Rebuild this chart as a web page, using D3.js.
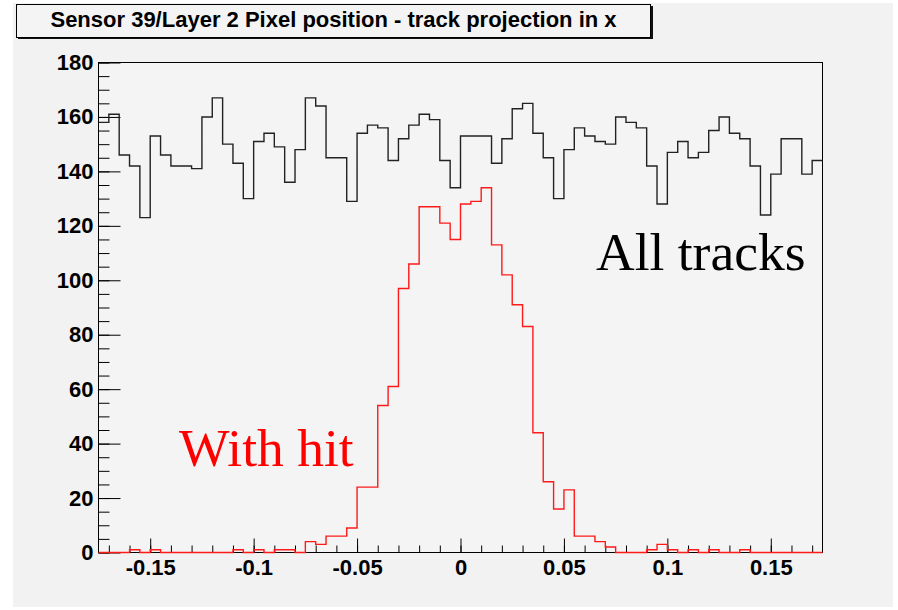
<!DOCTYPE html>
<html>
<head>
<meta charset="utf-8">
<script src="https://cdn.jsdelivr.net/npm/d3@7"></script>
<style>
  html, body { margin: 0; padding: 0; background: #fff; }
  svg { display: block; }
</style>
</head>
<body>
<svg id="chart" width="898" height="610"></svg>
<script>
const title = "Sensor 39/Layer 2 Pixel position - track projection in x";
const xRange = [-0.175, 0.175]; // 70 bins
const yMax = 180;

// bin contents, left to right
const allTracks = [
  158, 161, 146, 142, 123, 153, 146, 142, 142, 141,
  160, 167, 150, 143, 130, 151, 154, 149, 136, 148,
  167, 164, 145, 145, 129, 154, 157, 156, 144, 152,
  157, 161, 159, 144, 134, 153, 153, 153, 143, 152,
  163, 165, 154, 145, 130, 148, 156, 153, 151, 150,
  160, 158, 156, 142, 128, 147, 151, 145, 147, 155,
  160, 154, 152, 142, 124, 139, 152, 152, 139, 144
];
const withHit = [
  0, 0, 0, 1, 0, 1, 0, 0, 0, 0,
  0, 0, 0, 1, 0, 1, 0, 1, 1, 0,
  4, 3, 6, 6, 9, 24, 24, 54, 61, 97,
  106, 127, 127, 121, 115, 128, 129, 134, 113, 102,
  91, 83, 44, 26, 16, 23, 6, 6, 4, 2,
  0, 0, 0, 1, 3, 1, 0, 1, 0, 1,
  0, 0, 1, 0, 0, 0, 0, 0, 0, 0
];

const xTickValues = [-0.15, -0.1, -0.05, 0, 0.05, 0.1, 0.15];
const xTickLabels = ["-0.15", "-0.1", "-0.05", "0", "0.05", "0.1", "0.15"];
const yTickValues = [0, 20, 40, 60, 80, 100, 120, 140, 160, 180];

const labelAll = "All tracks";
const labelHit = "With hit";

const frame = { left: 98.5, top: 62.5, right: 822.5, bottom: 552.5 };
const sansBold = "'Liberation Sans', Arial, Helvetica, sans-serif";
const serif = "'Liberation Serif', 'Times New Roman', Times, serif";

const svg = d3.select("#chart");

// canvas background
svg.append("rect")
  .attr("x", 13).attr("y", 3)
  .attr("width", 880).attr("height", 604)
  .attr("fill", "#f2f2f2");

// frame
svg.append("rect")
  .attr("x", frame.left).attr("y", frame.top)
  .attr("width", frame.right - frame.left)
  .attr("height", frame.bottom - frame.top)
  .attr("fill", "#f4f4f4")
  .attr("stroke", "#000")
  .attr("stroke-width", 1);

const x = d3.scaleLinear().domain(xRange).range([frame.left, frame.right]);
const y = d3.scaleLinear().domain([0, yMax]).range([frame.bottom, frame.top]);

// y axis: ticks point into the frame, labels outside
const yMinor = svg.append("g")
  .attr("transform", `translate(${frame.left},0)`)
  .call(d3.axisLeft(y).tickValues(d3.range(0, yMax + 1, 5)).tickSize(-11).tickFormat(""));
const yAxis = svg.append("g")
  .attr("transform", `translate(${frame.left},0)`)
  .call(d3.axisLeft(y).tickValues(yTickValues).tickSize(-22).tickPadding(5));

// x axis
const xMinor = svg.append("g")
  .attr("transform", `translate(0,${frame.bottom})`)
  .call(d3.axisBottom(x).tickValues(d3.range(-17, 18).map((v) => v / 100)).tickSize(-7).tickFormat(""));
const xAxis = svg.append("g")
  .attr("transform", `translate(0,${frame.bottom})`)
  .call(d3.axisBottom(x).tickValues(xTickValues).tickSize(-14).tickPadding(7)
    .tickFormat((d, i) => xTickLabels[i]));

[yMinor, yAxis, xMinor, xAxis].forEach((g) => {
  g.select(".domain").remove();
  g.selectAll(".tick line").attr("stroke", "#000").attr("stroke-width", 1);
  g.selectAll(".tick text")
    .attr("fill", "#000")
    .style("font-family", sansBold)
    .style("font-weight", "bold")
    .style("font-size", "22px");
});

// histograms as step outlines
const drawHist = (counts, color) => {
  const n = counts.length;
  const w = (xRange[1] - xRange[0]) / n;
  const pts = counts.map((c, i) => [xRange[0] + i * w, c]);
  pts.push([xRange[1], counts[n - 1]]);
  svg.append("path")
    .datum(pts)
    .attr("fill", "none")
    .attr("stroke", color)
    .attr("stroke-width", 1.4)
    .attr("d", d3.line()
      .x((d) => x(d[0]))
      .y((d) => y(d[1]))
      .curve(d3.curveStepAfter));
};
drawHist(allTracks, "#222");
drawHist(withHit, "#ff1a1a");

// labels
svg.append("text")
  .attr("x", 596).attr("y", 270)
  .style("font-family", serif)
  .style("font-size", "53.5px")
  .attr("fill", "#000")
  .text(labelAll);

svg.append("text")
  .attr("x", 179).attr("y", 466)
  .style("font-family", serif)
  .style("font-size", "53.5px")
  .attr("fill", "#ff0000")
  .text(labelHit);

// title box with shadow
svg.append("rect")
  .attr("x", 18).attr("y", 6)
  .attr("width", 635).attr("height", 33)
  .attr("fill", "#111");
svg.append("rect")
  .attr("x", 16.5).attr("y", 4.5)
  .attr("width", 634).attr("height", 33)
  .attr("fill", "#f4f4f4")
  .attr("stroke", "#000")
  .attr("stroke-width", 1);
svg.append("text")
  .attr("x", 333.5).attr("y", 27)
  .attr("text-anchor", "middle")
  .style("font-family", sansBold)
  .style("font-weight", "bold")
  .style("font-size", "22px")
  .attr("fill", "#000")
  .text(title);
</script>
</body>
</html>
